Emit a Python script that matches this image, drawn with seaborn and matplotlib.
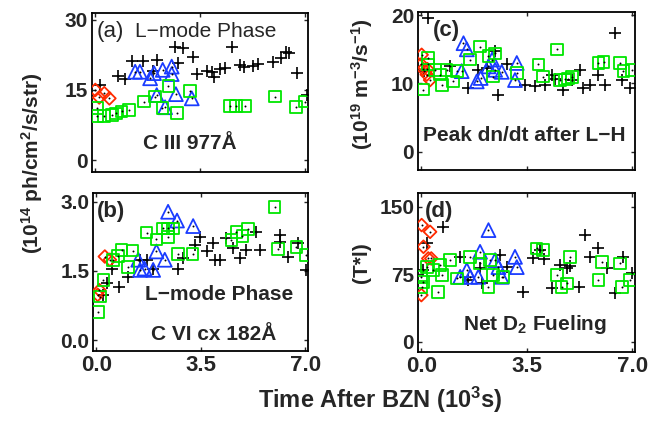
import numpy as np
import pandas as pd
import seaborn as sns
import matplotlib
matplotlib.use('Agg')
import matplotlib.pyplot as plt

# ---- data (time in 10^3 s) ----
# (a) C III 977A
A_PLUS_X = [0.16, 0.77, 0.99, 1.22, 1.58, 1.94, 2.05, 2.66, 2.77, 2.92, 3.27, 3.38, 3.72, 3.89, 3.96, 4.16, 4.33, 4.57, 4.83, 4.97, 5.25, 5.44, 5.94, 6.19, 6.37, 6.48, 6.72, 7.06]
A_PLUS_Y = [16.1, 18.0, 17.3, 21.1, 21.1, 19.1, 21.4, 24.1, 20.7, 23.9, 22.1, 18.4, 19.1, 18.9, 17.7, 19.4, 19.8, 24.1, 20.4, 20.0, 20.2, 20.6, 20.9, 21.8, 23.2, 22.9, 18.7, 13.9]
A_TRI_X = [1.33, 1.49, 1.83, 1.96, 2.25, 2.55, 2.55, 2.05, 2.33, 2.69, 3.22]
A_TRI_Y = [18.9, 18.9, 17.5, 18.6, 19.3, 20.0, 18.4, 13.9, 11.3, 14.1, 13.2]
A_SQ_X = [0.05, 0.07, 0.29, 0.55, 0.69, 0.88, 1.13, 1.63, 1.99, 2.24, 2.44, 2.72, 3.16, 4.50, 4.69, 5.00, 6.00, 6.70, 7.00]
A_SQ_Y = [11.1, 9.4, 9.4, 9.6, 10.0, 10.4, 10.7, 12.5, 13.6, 11.1, 15.9, 10.1, 14.8, 11.6, 11.6, 11.6, 13.6, 11.3, 12.5]
A_DIA_X = [0.0, 0.13, 0.30, 0.47]
A_DIA_Y = [15.0, 13.4, 14.3, 13.2]

# (c) peak dn/dt after L-H
C_PLUS_X = [0.1, 0.23, 0.95, 1.56, 1.89, 2.17, 2.45, 2.56, 2.84, 3.44, 3.78, 4.11, 4.33, 4.45, 4.72, 5.0, 5.27, 5.38, 5.60, 5.88, 6.10, 6.43, 6.66, 6.93]
C_PLUS_Y = [11.8, 19.6, 12.5, 9.3, 12.0, 12.3, 14.7, 8.3, 12.8, 9.8, 9.6, 9.8, 11.3, 10.6, 9.1, 10.5, 12.0, 9.3, 9.8, 11.3, 9.7, 17.4, 10.5, 9.3]
C_TRI_X = [1.40, 1.51, 1.34, 1.84, 1.97, 2.23, 2.35, 2.45, 2.67, 3.17, 3.11]
C_TRI_Y = [15.9, 15.0, 11.8, 10.3, 10.8, 12.5, 13.5, 12.0, 11.7, 13.0, 10.5]
C_SQ_X = [0.07, 0.23, 0.23, 0.45, 0.62, 0.68, 0.84, 1.06, 1.18, 1.62, 1.95, 2.23, 2.45, 2.39, 3.17, 3.89, 4.05, 4.50, 4.61, 4.77, 4.88, 5.00, 5.88, 6.05, 6.60, 6.71, 6.99]
C_SQ_Y = [9.1, 13.7, 12.8, 12.0, 11.3, 9.8, 12.0, 10.3, 11.8, 13.5, 15.4, 14.0, 14.4, 11.0, 11.5, 12.8, 11.0, 15.0, 10.5, 10.6, 10.7, 10.9, 13.0, 13.1, 13.0, 11.8, 12.0]
C_DIA_X = [0.01, 0.0, 0.06, 0.2, 0.18, 0.29]
C_DIA_Y = [14.2, 12.8, 12.1, 12.1, 11.3, 10.5]

# (b) C VI cx 182A
B_PLUS_X = [0.23, 0.34, 0.51, 0.76, 1.06, 1.46, 1.68, 1.90, 2.74, 2.90, 3.29, 3.46, 3.69, 3.91, 3.96, 4.13, 4.35, 4.58, 4.80, 5.02, 5.36, 5.47, 6.14, 6.14, 6.42, 6.75, 7.03]
B_PLUS_Y = [0.98, 1.23, 1.55, 1.14, 1.37, 1.74, 1.74, 1.55, 1.55, 1.77, 2.06, 2.24, 1.92, 2.10, 1.74, 1.74, 2.21, 1.99, 1.77, 1.95, 2.35, 1.95, 2.28, 2.13, 1.81, 2.10, 1.52]
B_TRI_X = [2.40, 2.70, 3.24, 2.01, 2.29, 1.40, 1.46, 1.61, 1.90]
B_TRI_Y = [2.78, 2.59, 2.47, 1.92, 1.74, 1.74, 1.52, 1.55, 1.52]
B_SQ_X = [0.06, 0.12, 0.23, 0.56, 0.73, 0.84, 1.21, 1.06, 1.68, 2.01, 2.23, 2.40, 2.40, 2.57, 2.74, 3.22, 4.52, 4.69, 4.89, 5.08, 5.97, 6.08, 6.70, 7.03]
B_SQ_Y = [0.61, 0.94, 1.30, 1.74, 1.82, 1.95, 1.94, 1.58, 2.33, 2.18, 2.42, 2.23, 2.42, 2.42, 1.87, 1.87, 2.17, 2.34, 2.26, 2.40, 2.89, 1.97, 2.02, 1.84]
B_DIA_X = [0.04, 0.1, 0.28, 0.45]
B_DIA_Y = [0.98, 1.08, 1.81, 1.74]

# (d) net D2 fueling
D_PLUS_X = [0.07, 0.18, 0.73, 1.29, 1.56, 1.95, 2.01, 2.61, 2.84, 3.39, 3.72, 3.94, 4.08, 4.33, 4.61, 4.83, 4.94, 5.22, 5.44, 5.60, 5.88, 6.16, 6.43, 6.71, 6.99]
D_PLUS_Y = [79.7, 109.3, 127.8, 94.4, 68.6, 81.6, 64.9, 96.3, 83.3, 55.6, 92.6, 101.9, 91.5, 59.3, 85.2, 82.0, 84.0, 61.1, 118.6, 94.4, 103.8, 81.6, 53.8, 94.4, 76.0]
D_TRI_X = [2.23, 1.95, 1.29, 1.51, 1.62, 1.89, 2.45, 2.56, 2.67, 3.11, 3.17]
D_TRI_Y = [124.1, 100.0, 72.2, 79.7, 72.2, 72.2, 90.8, 83.0, 72.2, 94.4, 83.0]
D_SQ_X = [0.0, 0.05, 0.01, 0.18, 0.39, 0.56, 0.62, 0.68, 0.95, 1.18, 1.62, 1.95, 2.28, 2.39, 2.23, 2.72, 3.83, 4.05, 4.50, 4.66, 4.83, 4.94, 5.88, 5.99, 6.60, 6.66, 6.93]
D_SQ_Y = [72.2, 66.7, 61.1, 83.3, 79.6, 55.6, 85.2, 74.1, 90.8, 70.4, 94.4, 87.1, 90.8, 74.1, 61.1, 72.2, 103.8, 101.9, 74.1, 61.1, 64.8, 94.4, 68.6, 88.9, 87.1, 61.1, 68.6]
D_DIA_X = [0.01, 0.29, 0.07, 0.23, 0.33, 0.0]
D_DIA_Y = [129.7, 122.2, 105.6, 92.6, 92.6, 51.9]

X_TICKS = [0.0, 3.5, 7.0]
X_TICKLABELS = ['0.0', '3.5', '7.0']

sns.set_theme(style='ticks')
plt.rcParams['font.family'] = ['Liberation Sans', 'DejaVu Sans']
plt.rcParams['font.weight'] = 'bold'
plt.rcParams['mathtext.fontset'] = 'custom'
plt.rcParams['mathtext.rm'] = 'Liberation Sans:bold'
plt.rcParams['mathtext.bf'] = 'Liberation Sans:bold'
plt.rcParams['mathtext.default'] = 'bf'

fig = plt.figure(figsize=(6.51, 4.23), dpi=100)
ax_a = fig.add_axes([0.1418, 0.594, 0.3313, 0.3745])
ax_c = fig.add_axes([0.6426, 0.598, 0.3330, 0.3740])
ax_b = fig.add_axes([0.1436, 0.171, 0.3300, 0.3720])
ax_d = fig.add_axes([0.6426, 0.1685, 0.3330, 0.3745])


def draw_panel(ax, plus, dia, tri, sq, ylim, yticks, ylabels, show_x):
    # black crosses
    df = pd.DataFrame({'t': plus[0], 'v': plus[1]})
    sns.scatterplot(data=df, x='t', y='v', marker='+', s=80, color='black',
                    linewidth=1.2, ax=ax, zorder=3)
    # open symbols
    for (xs, ys), mk, col, size in [(dia, 'D', '#ff2a00', 42),
                                    (tri, '^', '#1a3cff', 100),
                                    (sq, 's', '#00e600', 70)]:
        df = pd.DataFrame({'t': xs, 'v': ys})
        sns.scatterplot(data=df, x='t', y='v', marker=mk, s=size,
                        facecolor='none', edgecolor=col, linewidth=1.3,
                        ax=ax, zorder=4)
    # small centre dots
    for xs, ys in [plus, dia, tri, sq]:
        df = pd.DataFrame({'t': xs, 'v': ys})
        sns.scatterplot(data=df, x='t', y='v', marker='o', s=2, color='black',
                        linewidth=0, ax=ax, zorder=5)
    ax.set_xlim(-0.1, 7.1)
    ax.set_ylim(*ylim)
    ax.set_xticks(X_TICKS)
    ax.set_yticks(yticks)
    ax.set_yticklabels(ylabels, fontsize=15, fontweight='bold')
    if show_x:
        ax.set_xticklabels(X_TICKLABELS, fontsize=16, fontweight='bold')
    else:
        ax.set_xticklabels([])
    ax.set_xlabel('')
    ax.set_ylabel('')
    ax.tick_params(direction='in', length=3, width=1, top=True, right=True,
                   pad=3)
    for sp in ax.spines.values():
        sp.set_linewidth(1.3)
        sp.set_color('black')


draw_panel(ax_a, (A_PLUS_X, A_PLUS_Y), (A_DIA_X, A_DIA_Y), (A_TRI_X, A_TRI_Y),
           (A_SQ_X, A_SQ_Y), (-2.5, 31.4), [0, 15, 30], ['0', '15', '30'], False)
draw_panel(ax_c, (C_PLUS_X, C_PLUS_Y), (C_DIA_X, C_DIA_Y), (C_TRI_X, C_TRI_Y),
           (C_SQ_X, C_SQ_Y), (-2.7, 20.5), [0, 10, 20], ['0', '10', '20'], False)
draw_panel(ax_b, (B_PLUS_X, B_PLUS_Y), (B_DIA_X, B_DIA_Y), (B_TRI_X, B_TRI_Y),
           (B_SQ_X, B_SQ_Y), (-0.23, 3.18), [0, 1.5, 3.0], ['0.0', '1.5', '3.0'], True)
draw_panel(ax_d, (D_PLUS_X, D_PLUS_Y), (D_DIA_X, D_DIA_Y), (D_TRI_X, D_TRI_Y),
           (D_SQ_X, D_SQ_Y), (-11, 165), [0, 75, 150], ['0', '75', '150'], True)

# panel annotations
ax_a.text(0.02, 0.884, '(a)', transform=ax_a.transAxes, fontsize=16,
          fontweight='normal', va='center', ha='left')
ax_a.text(0.198, 0.884, 'L\u2212mode Phase', transform=ax_a.transAxes,
          fontsize=15, fontweight='normal', va='center', ha='left')
ax_a.text(0.453, 0.181, 'C III 977\u00c5', transform=ax_a.transAxes,
          fontsize=15, va='center', ha='center')

ax_c.text(0.068, 0.884, '(c)', transform=ax_c.transAxes, fontsize=16,
          va='center', ha='left')
ax_c.text(0.488, 0.221, 'Peak dn/dt after L\u2212H', transform=ax_c.transAxes,
          fontsize=15, va='center', ha='center')

ax_b.text(0.015, 0.883, '(b)', transform=ax_b.transAxes, fontsize=16,
          va='center', ha='left')
ax_b.text(0.584, 0.354, 'L\u2212mode Phase', transform=ax_b.transAxes,
          fontsize=15, va='center', ha='center')
ax_b.text(0.558, 0.10, 'C VI cx 182\u00c5', transform=ax_b.transAxes,
          fontsize=15, va='center', ha='center')

ax_d.text(0.031, 0.884, '(d)', transform=ax_d.transAxes, fontsize=16,
          va='center', ha='left')
ax_d.text(0.538, 0.169, 'Net D$_2$ Fueling', transform=ax_d.transAxes,
          fontsize=15, va='center', ha='center')

# axis labels
fig.text(0.049, 0.613, '(10$^{14}$ ph/cm$^2$/s/str)', rotation=90,
         fontsize=15, va='center', ha='center')
fig.text(0.556, 0.80, '(10$^{19}$ m$^{-3}$/s$^{-1}$)', rotation=90,
         fontsize=15, va='center', ha='center')
fig.text(0.556, 0.378, '(T*l)', rotation=90, fontsize=15,
         va='center', ha='center')
fig.text(0.584, 0.054, 'Time After BZN (10$^3$s)', fontsize=17,
         va='center', ha='center')

fig.savefig('out.png', dpi=100)
